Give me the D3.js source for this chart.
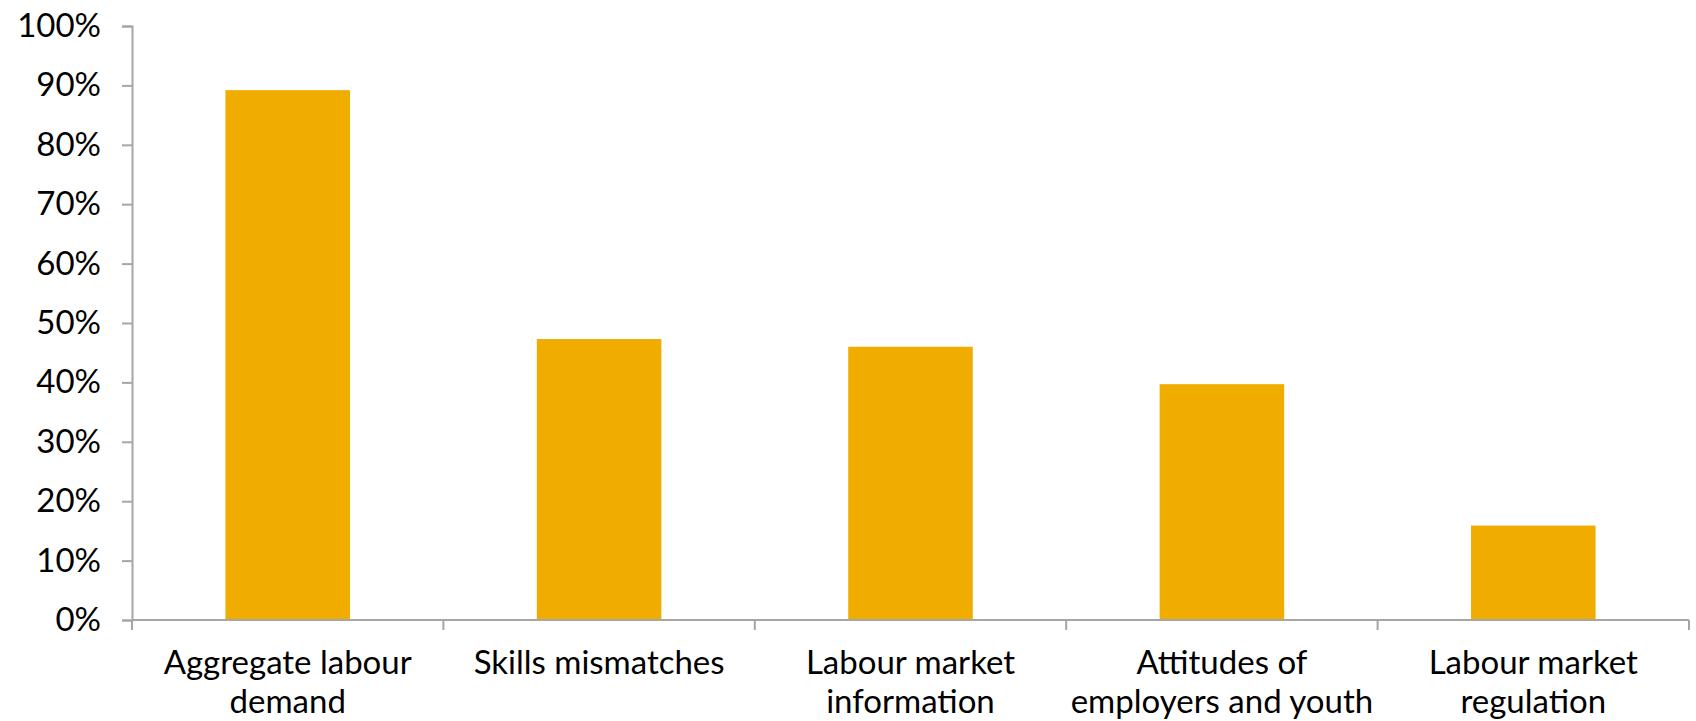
<!DOCTYPE html>
<html>
<head>
<meta charset="utf-8">
<script src="https://cdn.jsdelivr.net/npm/d3@7"></script>
<style>
  body { margin: 0; background: #fff; }
  text { font-family: Lato, "Noto Sans", sans-serif; fill: #000; }
  .axis path, .axis line { stroke: #a6a6a6; stroke-width: 2; }
</style>
</head>
<body>
<main></main>
<script>
const categories = [
  ['Aggregate labour', 'demand'],
  ['Skills mismatches'],
  ['Labour market', 'information'],
  ['Attitudes of', 'employers and youth'],
  ['Labour market', 'regulation']
];
const values = [0.892, 0.473, 0.46, 0.397, 0.159];
const yTicks = [0, 0.1, 0.2, 0.3, 0.4, 0.5, 0.6, 0.7, 0.8, 0.9, 1];

const svgWidth = 1696;
const svgHeight = 721;
const plotLeft = 132;
const plotRight = 1689;
const plotTop = 26;
const plotBottom = 620;

const svg = d3
  .select('main')
  .append('svg')
  .attr('width', svgWidth)
  .attr('height', svgHeight);

const keys = categories.map((c, i) => i);

const xScale = d3
  .scaleBand()
  .range([plotLeft, plotRight])
  .domain(keys)
  .paddingInner(0.6)
  .paddingOuter(0.3);

const yScale = d3
  .scaleLinear()
  .range([plotBottom, plotTop])
  .domain([0, 1]);

// bars
svg
  .selectAll('.bar')
  .data(values)
  .enter()
  .append('rect')
  .attr('class', 'bar')
  .attr('x', (d, i) => xScale(i))
  .attr('y', d => yScale(d))
  .attr('width', xScale.bandwidth())
  .attr('height', d => plotBottom - yScale(d))
  .attr('fill', '#f0ad00');

// y axis
const yAxis = svg
  .append('g')
  .attr('class', 'axis')
  .attr('transform', `translate(${plotLeft}, 0)`)
  .call(
    d3.axisLeft(yScale)
      .tickValues(yTicks)
      .tickFormat(d3.format('.0%'))
      .tickSize(10)
      .tickSizeOuter(10)
      .tickPadding(21)
  );
yAxis.selectAll('text').style('font-size', '33px');

// x axis with ticks between categories
const step = xScale.step();
const boundaries = d3.range(categories.length + 1).map(i => plotLeft + i * step);

svg
  .append('line')
  .attr('x1', plotLeft)
  .attr('x2', plotRight)
  .attr('y1', plotBottom)
  .attr('y2', plotBottom)
  .attr('stroke', '#a6a6a6')
  .attr('stroke-width', 2);

svg
  .selectAll('.xtick')
  .data(boundaries)
  .enter()
  .append('line')
  .attr('class', 'xtick')
  .attr('x1', d => d)
  .attr('x2', d => d)
  .attr('y1', plotBottom)
  .attr('y2', plotBottom + 10)
  .attr('stroke', '#a6a6a6')
  .attr('stroke-width', 2);

const labels = svg
  .selectAll('.xlabel')
  .data(categories)
  .enter()
  .append('text')
  .attr('class', 'xlabel')
  .attr('text-anchor', 'middle')
  .attr('x', (d, i) => xScale(i) + xScale.bandwidth() / 2)
  .attr('y', 674)
  .style('font-size', '33px');

labels
  .selectAll('tspan')
  .data(d => d)
  .enter()
  .append('tspan')
  .attr('x', function() { return d3.select(this.parentNode).attr('x'); })
  .attr('dy', (d, i) => i === 0 ? 0 : 39)
  .text(d => d);
</script>
</body>
</html>
